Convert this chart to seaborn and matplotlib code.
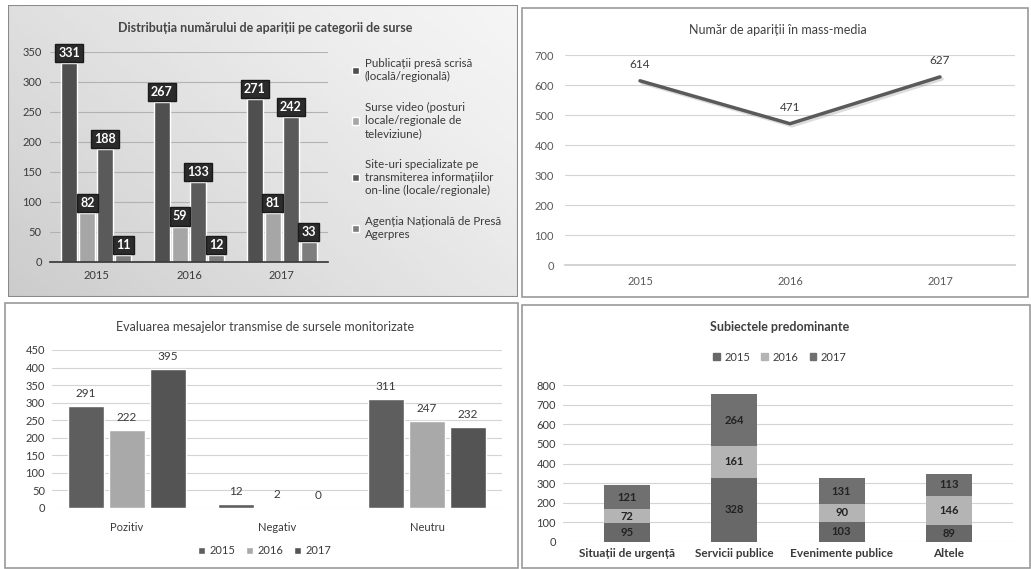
import numpy as np
import pandas as pd
import matplotlib
matplotlib.use('Agg')
import matplotlib.pyplot as plt
import matplotlib.patheffects as pe
from matplotlib.patches import Rectangle, Patch
import seaborn as sns

# --- data ---
years = ['2015', '2016', '2017']

src_labels = ['Publicații presă scrisă\n(locală/regională)',
              'Surse video (posturi\nlocale/regionale de\nteleviziune)',
              'Site-uri specializate pe\ntransmiterea informațiilor\non-line (locale/regionale)',
              'Agenția Națională de Presă\nAgerpres']
presa = [331, 267, 271]
video = [82, 59, 81]
site = [188, 133, 242]
agerpres = [11, 12, 33]

aparitii = [614, 471, 627]

eval_cats = ['Pozitiv', 'Negativ', 'Neutru']
eval_2015 = [291, 12, 311]
eval_2016 = [222, 2, 247]
eval_2017 = [395, 0, 232]

subj_cats = ['Situații de urgență', 'Servicii publice', 'Evenimente publice', 'Altele']
subj_2015 = [95, 328, 103, 89]
subj_2016 = [72, 161, 90, 146]
subj_2017 = [121, 264, 131, 113]

sns.set_theme(style='white')
plt.rcParams['font.family'] = ['Lato', 'DejaVu Sans']

W, H = 1031, 569
fig = plt.figure(figsize=(W / 100, H / 100), dpi=100)
fig.patch.set_facecolor('white')


def box(x0, y0, x1, y1):
    # pixel box (top-left origin) -> figure fraction rect
    return [x0 / W, (H - y1) / H, (x1 - x0) / W, (y1 - y0) / H]


def ftext(x, y, s, **kw):
    fig.text(x / W, (H - y) / H, s, ha='center', va='center', **kw)


dark = '#4f4f4f'
light = '#a6a6a6'
c15, c16, c17 = '#5e5e5e', '#a9a9a9', '#545454'
txt = '#3a3a3a'
grid = '#d4d4d4'

# ---------------- panel 1 -----------------
bg = fig.add_axes(box(8, 5, 518, 297))
grad = np.linspace(0, 1, 256)
gx, gy = np.meshgrid(grad, grad)
bg.imshow(0.6 * gx + 0.4 * (1 - gy), cmap='Greys_r', vmin=-3.0, vmax=1.35,
          aspect='auto', extent=[0, 1, 0, 1])
bg.set_axis_off()
bg.add_patch(Rectangle((0, 0), 1, 1, transform=bg.transAxes, fill=False,
                       edgecolor='#8a8a8a', lw=1.5))

ax1 = fig.add_axes(box(50, 52, 328, 262))
ax1.patch.set_alpha(0)
df1 = pd.DataFrame({
    'an': years * 4,
    'sursa': sum([[s] * 3 for s in src_labels], []),
    'val': presa + video + site + agerpres,
})
sns.barplot(data=df1, x='an', y='val', hue='sursa', hue_order=src_labels,
            palette=[dark, light, '#5a5a5a', '#7d7d7d'], width=0.78, gap=0.12,
            saturation=1, ax=ax1)
ax1.set_ylim(0, 350)
ax1.set_yticks(range(0, 351, 50))
ax1.yaxis.grid(True, color='#b2b2b2', lw=0.8)
ax1.set_axisbelow(True)
for sp in ['top', 'right', 'left']:
    ax1.spines[sp].set_visible(False)
ax1.spines['bottom'].set_color('#333333')
ax1.spines['bottom'].set_linewidth(1.2)
ax1.set_xlabel('')
ax1.set_ylabel('')
ax1.tick_params(axis='both', labelsize=8, colors=txt, length=0, pad=6)
for c in ax1.containers:
    ax1.bar_label(c, padding=3, color='white', fontsize=9, fontweight='bold',
                  bbox=dict(boxstyle='square,pad=0.25', fc='#2b2b2b', ec='#1a1a1a'),
                  clip_on=False)
ax1.legend(loc='upper left', bbox_to_anchor=(1.05, 1.02), frameon=False,
           fontsize=8.3, handlelength=0.6, handleheight=0.6, handletextpad=0.5,
           labelspacing=1.75, labelcolor=txt)
ftext(265, 28, 'Distribuția numărului de apariții pe categorii de surse',
      fontsize=9, fontweight='bold', color='#454545')

# ---------------- panel 2 -----------------
fig.patches.append(Rectangle((522 / W, (H - 297) / H), 506 / W, 289 / H,
                             transform=fig.transFigure, fill=False,
                             edgecolor='#9a9a9a', lw=1.2))
ax2 = fig.add_axes(box(565, 55, 1015, 265))
sns.lineplot(x=years, y=aparitii, color='#5a5a5a', lw=2.5, ax=ax2,
             path_effects=[pe.SimpleLineShadow(offset=(1.5, -1.5), alpha=0.15),
                           pe.Normal()])
ax2.set_xlim(-0.5, 2.5)
ax2.set_ylim(0, 700)
ax2.set_yticks(range(0, 701, 100))
ax2.yaxis.grid(True, color=grid, lw=0.8)
for sp in ['top', 'right', 'left']:
    ax2.spines[sp].set_visible(False)
ax2.spines['bottom'].set_color('#cfcfcf')
ax2.tick_params(axis='both', labelsize=8, colors='#5a5a5a', length=0, pad=8)
for x, v in zip(years, aparitii):
    ax2.annotate(str(v), (x, v), xytext=(0, 8), textcoords='offset points',
                 ha='center', va='bottom', fontsize=8.5, color=txt)
ftext(778, 30, 'Număr de apariții în mass-media', fontsize=9, color='#404040')

# ---------------- panel 3 -----------------
fig.patches.append(Rectangle((5 / W, 1 / H), 513 / W, 265 / H,
                             transform=fig.transFigure, fill=False,
                             edgecolor='#9a9a9a', lw=1.2))
ax3 = fig.add_axes(box(52, 350, 502, 508))
df3 = pd.DataFrame({
    'cat': eval_cats * 3,
    'an': sum([[y] * 3 for y in years], []),
    'val': eval_2015 + eval_2016 + eval_2017,
})
sns.barplot(data=df3, x='cat', y='val', hue='an', palette=[c15, c16, c17],
            width=0.82, gap=0.14, saturation=1, ax=ax3)
ax3.set_ylim(0, 450)
ax3.set_yticks(range(0, 451, 50))
ax3.yaxis.grid(True, color=grid, lw=0.8)
ax3.set_axisbelow(True)
sns.despine(ax=ax3, left=True, bottom=True)
ax3.set_xlabel('')
ax3.set_ylabel('')
ax3.tick_params(axis='both', labelsize=8, colors=txt, length=0, pad=5)
ax3.tick_params(axis='x', pad=10)
for c in ax3.containers:
    ax3.bar_label(c, padding=5, fontsize=8.5, color=txt)
ax3.legend(loc='center', bbox_to_anchor=(0.473, -0.27), ncol=3, frameon=False,
           fontsize=8, handlelength=0.6, handleheight=0.6, handletextpad=0.4,
           columnspacing=1.0, labelcolor=txt)
ftext(265, 327, 'Evaluarea mesajelor transmise de sursele monitorizate',
      fontsize=9, color='#404040')

# ---------------- panel 4 -----------------
fig.patches.append(Rectangle((522 / W, 1 / H), 508 / W, 263 / H,
                             transform=fig.transFigure, fill=False,
                             edgecolor='#9a9a9a', lw=1.2))
ax4 = fig.add_axes(box(563, 385, 1013, 542))
df4 = pd.DataFrame({'cat': subj_cats, 'a': subj_2015, 'b': subj_2016, 'c': subj_2017})
df4['t15'] = df4['a']
df4['t16'] = df4['a'] + df4['b']
df4['t17'] = df4['t16'] + df4['c']
for col, colr in [('t17', '#707070'), ('t16', '#b4b4b4'), ('t15', '#686868')]:
    sns.barplot(data=df4, x='cat', y=col, color=colr, width=0.43, saturation=1,
                linewidth=0, ax=ax4)
ax4.set_ylim(0, 800)
ax4.set_yticks(range(0, 801, 100))
ax4.set_xlim(-0.6, 3.6)
ax4.yaxis.grid(True, color=grid, lw=0.8)
ax4.set_axisbelow(True)
sns.despine(ax=ax4, left=True, bottom=True)
ax4.set_xlabel('')
ax4.set_ylabel('')
ax4.tick_params(axis='both', labelsize=8, colors=txt, length=0, pad=5)
ax4.tick_params(axis='x', pad=4)
for lab in ax4.get_xticklabels():
    lab.set_fontweight('bold')
    lab.set_fontsize(8.5)
for i, row in df4.iterrows():
    for lo, v in [(0, row['a']), (row['t15'], row['b']), (row['t16'], row['c'])]:
        ax4.text(i, lo + v / 2, str(v), ha='center', va='center',
                 fontsize=8, fontweight='bold', color='#222222')
handles = [Patch(color=c) for c in ['#686868', '#b4b4b4', '#707070']]
ax4.legend(handles, years, loc='center', bbox_to_anchor=(0.482, 1.178), ncol=3,
           frameon=False, fontsize=8, handlelength=0.6, handleheight=0.6,
           handletextpad=0.4, columnspacing=1.0, labelcolor=txt)
ftext(780, 327, 'Subiectele predominante', fontsize=9, fontweight='bold',
      color='#404040')

fig.savefig('out.png', dpi=100)
